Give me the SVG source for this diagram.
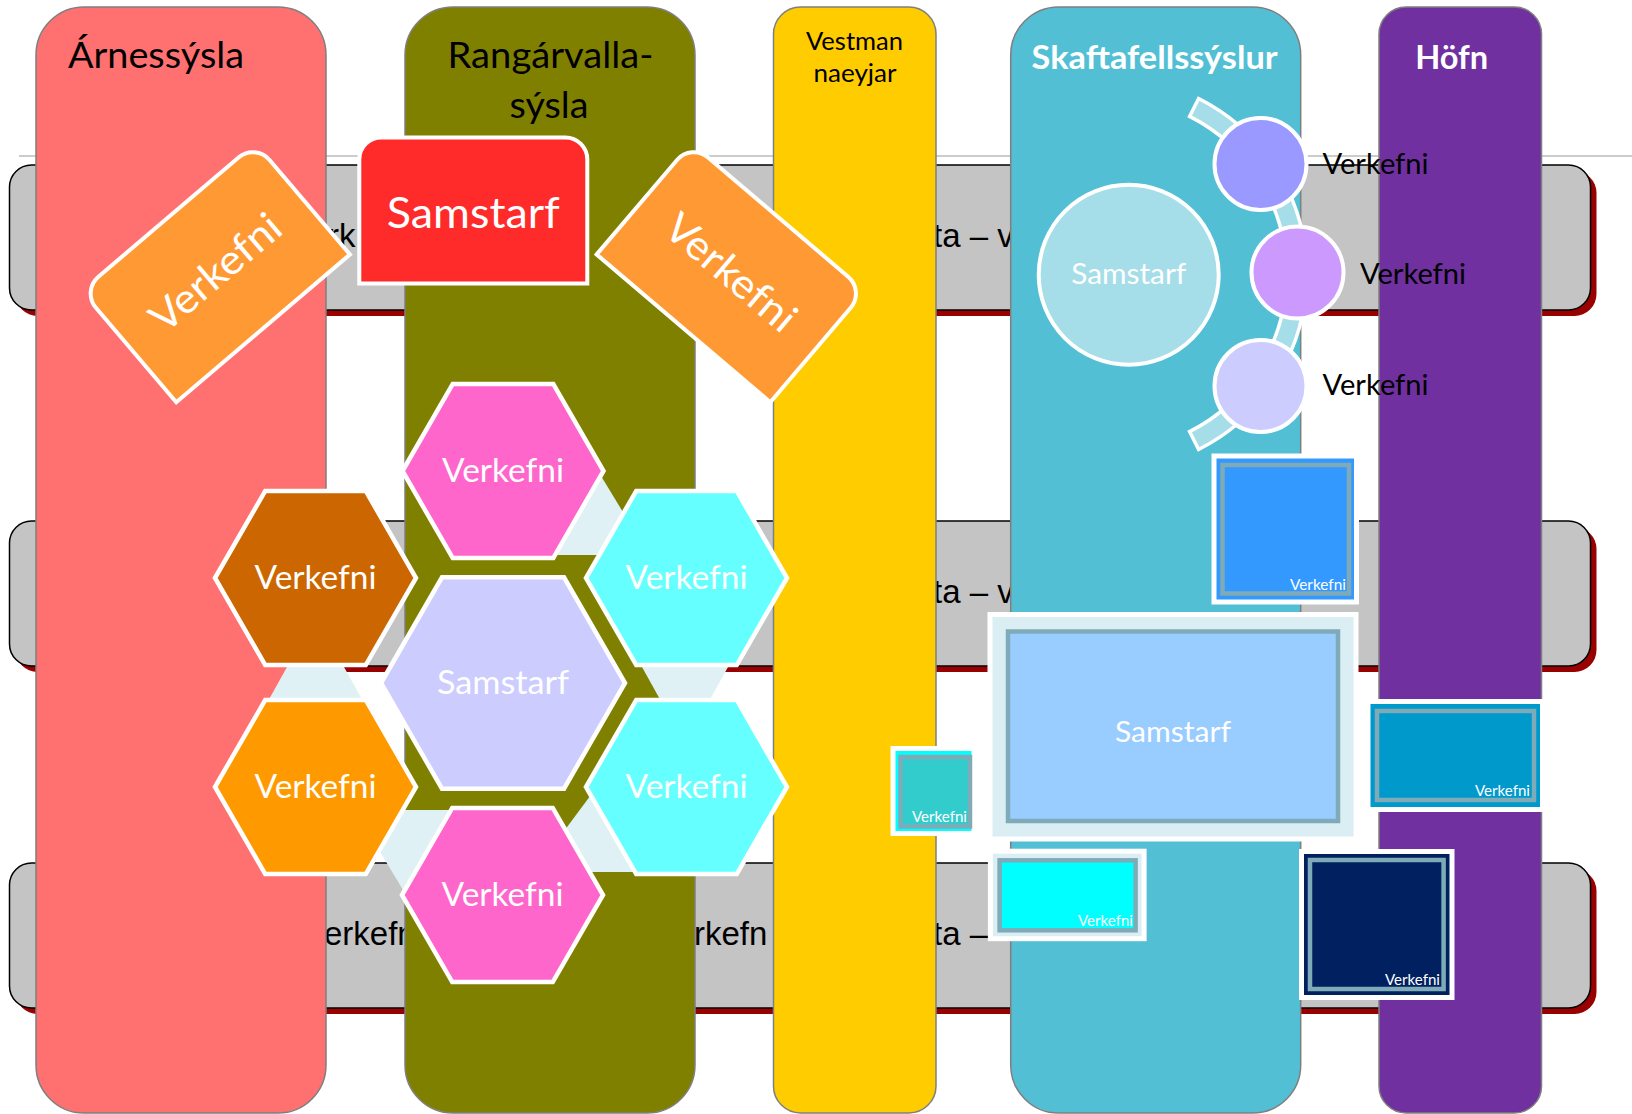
<svg xmlns="http://www.w3.org/2000/svg" width="1632" height="1114" viewBox="0 0 1632 1114">
<defs>
<style>
.col{stroke:#7F7F7F;stroke-width:1.5}
.bar{fill:#C4C4C4;stroke:#000;stroke-width:1.5}
.shd{fill:#990000}
.bt{font-family:"Liberation Sans",Arial,sans-serif;font-size:33px;fill:#000}
.ttl{font-family:Lato,"Open Sans",sans-serif;fill:#000}
.w{font-family:Lato,"Open Sans",sans-serif;fill:#fff}
.b{font-weight:bold}
.hex{stroke:#fff;stroke-width:4.5}
.conn{fill:#DFF1F5}
.rnd{stroke:#fff;stroke-width:4}
.frame{stroke:#7FABB8;stroke-width:4.5}
.outer{stroke:#fff;stroke-width:5}
.sm{font-family:Lato,"Open Sans",sans-serif;font-size:14.5px;fill:#fff;text-anchor:end}
.tab{stroke:#fff;stroke-width:4}
</style>
<path id="tab" d="M -114 73 L -114 -51 A 22 22 0 0 1 -92 -73 L 92 -73 A 22 22 0 0 1 114 -51 L 114 73 Z"/>
</defs>
<rect x="0" y="0" width="1632" height="1114" fill="#fff"/>
<line x1="19" y1="156" x2="1632" y2="156" stroke="#CCCCCC" stroke-width="2.2"/>

<g id="bars">
  <rect class="shd" x="15.5" y="171" width="1581" height="145" rx="22"/>
  <rect class="bar" x="9.5" y="165" width="1581" height="145" rx="22"/>
  <rect class="shd" x="15.5" y="527" width="1581" height="145" rx="22"/>
  <rect class="bar" x="9.5" y="521" width="1581" height="145" rx="22"/>
  <rect class="shd" x="15.5" y="869" width="1581" height="145" rx="22"/>
  <rect class="bar" x="9.5" y="863" width="1581" height="145" rx="22"/>
  <text class="bt" x="328" y="247">rk</text>
  <text class="bt" x="933" y="247">ta – v</text>
  <text class="bt" x="933" y="603">ta – v</text>
  <text class="bt" x="324" y="945">erkefn</text>
  <text class="bt" x="694" y="945">rkefn</text>
  <text class="bt" x="933" y="945">ta –</text>
</g>

<g id="col-arnessysla">
  <rect class="col" x="36" y="7" width="290" height="1106" rx="48" fill="#FF7171"/>
  <text class="ttl" x="68" y="68" font-size="37" textLength="176" lengthAdjust="spacingAndGlyphs">Árnessýsla</text>
</g>
<g id="col-rangarvallasysla">
  <rect class="col" x="405" y="7" width="290" height="1106" rx="48" fill="#808000"/>
  <text class="ttl" x="550.5" y="68" font-size="37" text-anchor="middle" textLength="206" lengthAdjust="spacingAndGlyphs">Rangárvalla-</text>
  <text class="ttl" x="549" y="118" font-size="37" text-anchor="middle" textLength="79" lengthAdjust="spacingAndGlyphs">sýsla</text>
</g>
<g id="col-vestmannaeyjar">
  <rect class="col" x="773.5" y="7" width="162.5" height="1106" rx="27" fill="#FFCC00"/>
  <text class="ttl" x="854.5" y="50" font-size="24.5" text-anchor="middle" textLength="97" lengthAdjust="spacingAndGlyphs">Vestman</text>
  <text class="ttl" x="855" y="82" font-size="24.5" text-anchor="middle" textLength="83" lengthAdjust="spacingAndGlyphs">naeyjar</text>
</g>
<g id="col-skaftafellssyslur">
  <rect class="col" x="1010.7" y="7" width="290" height="1106" rx="48" fill="#52BFD4"/>
  <text class="w b" x="1154.6" y="69" font-size="32.5" text-anchor="middle" textLength="246" lengthAdjust="spacingAndGlyphs">Skaftafellssýslur</text>
</g>
<g id="col-hofn">
  <rect class="col" x="1379" y="7" width="162.5" height="1106" rx="27" fill="#7030A0"/>
  <text class="w b" x="1451.7" y="69" font-size="32.5" text-anchor="middle" textLength="73" lengthAdjust="spacingAndGlyphs">Höfn</text>
</g>

<g id="verkefni-diamond-left" transform="translate(215.8,272.7) rotate(-40.4)">
  <use href="#tab" class="tab" fill="#FF9933"/>
  <text class="w" x="0" y="14" font-size="41" text-anchor="middle" textLength="158" lengthAdjust="spacingAndGlyphs">Verkefni</text>
</g>
<g id="samstarf-red" transform="translate(473.3,210.5)">
  <use href="#tab" class="tab" fill="#FF2B2B"/>
  <text class="w" x="0" y="17.8" font-size="43" text-anchor="middle" textLength="173" lengthAdjust="spacingAndGlyphs">Samstarf</text>
</g>
<g id="verkefni-diamond-right" transform="translate(730.8,272.7) rotate(40.4)">
  <use href="#tab" class="tab" fill="#FF9933"/>
  <text class="w" x="0" y="14" font-size="41" text-anchor="middle" textLength="158" lengthAdjust="spacingAndGlyphs">Verkefni</text>
</g>

<g id="connectors">
  <polygon class="conn" points="598,471 649,555 545,555"/>
  <polygon class="conn" points="302,640 329,640 369,712 262,712"/>
  <polygon class="conn" points="627,640 743,640 703,712 667,712"/>
  <polygon class="conn" points="355,810 470,810 470,910 415,910"/>
  <polygon class="conn" points="550,850 602,780 660,780 660,872 560,872"/>
  <path d="M 1198.6 98.5 A 196.5 196.5 0 0 1 1198.6 449.5 L 1189.6 431.6 A 176.5 176.5 0 0 0 1189.6 116.4 Z" fill="#A5DEE8" stroke="#fff" stroke-width="3.5"/>
</g>

<g id="hex-verkefni-top">
  <polygon class="hex" fill="#FF66CC" points="402.5,471 452.75,383.97 553.25,383.97 603.5,471 553.25,558.03 452.75,558.03"/>
  <text class="w" x="503" y="482" font-size="32" text-anchor="middle" textLength="122" lengthAdjust="spacingAndGlyphs">Verkefni</text>
</g>
<g id="hex-verkefni-upper-left">
  <polygon class="hex" fill="#CC6600" points="215,578 265.25,490.97 365.75,490.97 416,578 365.75,665.03 265.25,665.03"/>
  <text class="w" x="315.5" y="589" font-size="32" text-anchor="middle" textLength="122" lengthAdjust="spacingAndGlyphs">Verkefni</text>
</g>
<g id="hex-verkefni-upper-right">
  <polygon class="hex" fill="#66FFFF" points="586,578 636.25,490.97 736.75,490.97 787,578 736.75,665.03 636.25,665.03"/>
  <text class="w" x="686.5" y="589" font-size="32" text-anchor="middle" textLength="122" lengthAdjust="spacingAndGlyphs">Verkefni</text>
</g>
<g id="hex-samstarf">
  <polygon class="hex" fill="#CCCCFF" points="381,683 442,577.35 564,577.35 625,683 564,788.65 442,788.65"/>
  <text class="w" x="503" y="694" font-size="33" text-anchor="middle" textLength="132" lengthAdjust="spacingAndGlyphs">Samstarf</text>
</g>
<g id="hex-verkefni-lower-left">
  <polygon class="hex" fill="#FF9900" points="215,787 265.25,699.97 365.75,699.97 416,787 365.75,874.03 265.25,874.03"/>
  <text class="w" x="315.5" y="798" font-size="32" text-anchor="middle" textLength="122" lengthAdjust="spacingAndGlyphs">Verkefni</text>
</g>
<g id="hex-verkefni-lower-right">
  <polygon class="hex" fill="#66FFFF" points="586,787 636.25,699.97 736.75,699.97 787,787 736.75,874.03 636.25,874.03"/>
  <text class="w" x="686.5" y="798" font-size="32" text-anchor="middle" textLength="122" lengthAdjust="spacingAndGlyphs">Verkefni</text>
</g>
<g id="hex-verkefni-bottom">
  <polygon class="hex" fill="#FF66CC" points="402,895 452.25,807.97 552.75,807.97 603,895 552.75,982.03 452.25,982.03"/>
  <text class="w" x="502.5" y="906" font-size="32" text-anchor="middle" textLength="122" lengthAdjust="spacingAndGlyphs">Verkefni</text>
</g>

<g id="circle-samstarf">
  <circle class="rnd" cx="1128.7" cy="274.7" r="90" fill="#A5DEE8"/>
  <text class="w" x="1128.7" y="284" font-size="29" text-anchor="middle" textLength="115" lengthAdjust="spacingAndGlyphs">Samstarf</text>
</g>
<g id="circle-verkefni-1">
  <circle class="rnd" cx="1260.5" cy="164" r="46" fill="#9999FF"/>
  <text class="ttl" x="1322.5" y="173.5" font-size="28" textLength="106" lengthAdjust="spacingAndGlyphs">Verkefni</text>
</g>
<g id="circle-verkefni-2">
  <circle class="rnd" cx="1297.5" cy="272.5" r="46" fill="#CC99FF"/>
  <text class="ttl" x="1360" y="283.5" font-size="28" textLength="106" lengthAdjust="spacingAndGlyphs">Verkefni</text>
</g>
<g id="circle-verkefni-3">
  <circle class="rnd" cx="1260.5" cy="386" r="46" fill="#CCCCFF"/>
  <text class="ttl" x="1322.5" y="395" font-size="28" textLength="106" lengthAdjust="spacingAndGlyphs">Verkefni</text>
</g>

<g id="rect-verkefni-blue">
  <rect class="outer" x="1214" y="456" width="142.5" height="146" fill="#3399FF"/>
  <rect class="frame" x="1222.5" y="465" width="126.5" height="128.5" fill="#3399FF"/>
  <text class="sm" x="1346" y="590" textLength="56" lengthAdjust="spacingAndGlyphs">Verkefni</text>
</g>
<g id="rect-samstarf">
  <rect class="outer" x="990" y="614.5" width="366" height="224.5" fill="#DAEEF3"/>
  <rect class="frame" x="1008" y="631.5" width="330" height="189.5" fill="#99CCFF"/>
  <text class="w" x="1173" y="741.5" font-size="29" text-anchor="middle" textLength="116" lengthAdjust="spacingAndGlyphs">Samstarf</text>
</g>
<g id="rect-verkefni-teal">
  <rect class="outer" x="893" y="748.5" width="81" height="85" fill="#00FFFF"/>
  <rect class="frame" x="900.5" y="757" width="69.5" height="69.5" fill="#33CCCC"/>
  <text class="sm" x="967" y="822" textLength="55" lengthAdjust="spacingAndGlyphs">Verkefni</text>
</g>
<g id="rect-verkefni-hofn">
  <rect class="outer" x="1368" y="701.5" width="174.5" height="108" fill="#0099CC"/>
  <rect class="frame" x="1377" y="711" width="157" height="89" fill="#0099CC"/>
  <text class="sm" x="1530" y="796" textLength="55" lengthAdjust="spacingAndGlyphs">Verkefni</text>
</g>
<g id="rect-verkefni-cyan">
  <rect class="outer" x="990.4" y="851.2" width="153.7" height="87.5" fill="#DAEEF3"/>
  <rect class="frame" x="999.6" y="860.3" width="136" height="70" fill="#00FFFF"/>
  <text class="sm" x="1133" y="925.5" textLength="55" lengthAdjust="spacingAndGlyphs">Verkefni</text>
</g>
<g id="rect-verkefni-navy">
  <rect class="outer" x="1301.5" y="851.5" width="150.5" height="146" fill="#002060"/>
  <rect class="frame" x="1310" y="860" width="133.6" height="129" fill="#002060"/>
  <text class="sm" x="1440" y="985" textLength="55" lengthAdjust="spacingAndGlyphs">Verkefni</text>
</g>
</svg>
